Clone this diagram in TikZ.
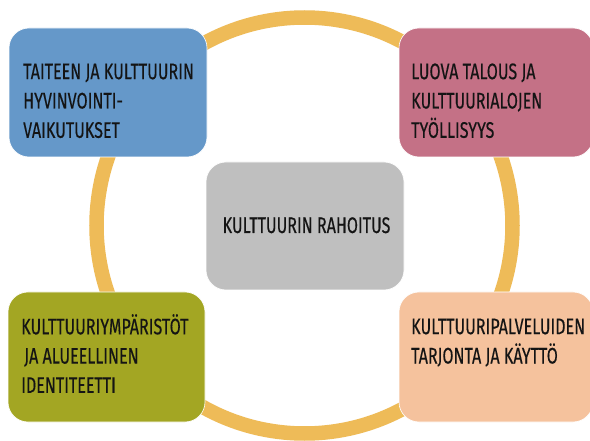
\documentclass[tikz,border=0pt]{standalone}
\usepackage{fontspec}
\setmainfont[FakeStretch=0.715,FakeBold=0.3]{Fira Sans}
\definecolor{ringc}{RGB}{238,187,88}
\definecolor{blueb}{RGB}{101,152,201}
\definecolor{mauveb}{RGB}{196,113,134}
\definecolor{oliveb}{RGB}{163,166,35}
\definecolor{peachb}{RGB}{245,194,157}
\definecolor{grayb}{RGB}{191,191,191}
\begin{document}
\begin{tikzpicture}[x=1pt,y=-1pt,
  box/.style={rounded corners=20pt, inner sep=0pt, draw=white, line width=0.6pt},
  lbl/.style={anchor=north west, inner sep=0pt, align=left, text=black!92,
    font=\fontsize{22.5}{29.3}\selectfont}]
\useasboundingbox (0,0) rectangle (590,441);
\clip (0,0) rectangle (590,441);
\fill[white] (0,0) rectangle (590,441);
\draw[ringc, line width=14.5pt] (304.5,225.5) circle [radius=208];
\node[box, fill=blueb, minimum width=198pt, minimum height=129pt] (tl) at (108,92.5) {};
\node[box, fill=mauveb, minimum width=194pt, minimum height=129pt] (tr) at (496,92.5) {};
\node[box, fill=oliveb, minimum width=197pt, minimum height=130pt] (bl) at (106.5,357) {};
\node[box, fill=peachb, minimum width=194pt, minimum height=130pt] (br) at (496,357) {};
\node[box, fill=grayb, minimum width=198pt, minimum height=128pt] (ctr) at (305,226) {};
\node[lbl] (tltext) at (23,59) {\rule{0pt}{20pt}TAITEEN JA KULTTUURIN\\HYVINVOINTI-\\VAIKUTUKSET};
\node[lbl] (trtext) at (411,59) {\rule{0pt}{20pt}LUOVA TALOUS JA\\KULTTUURIALOJEN\\TYÖLLISYYS};
\node[lbl] (bltext) at (21,314) {\rule{0pt}{20pt}KULTTUURIYMPÄRISTÖT\\\hspace*{3pt}JA ALUEELLINEN\\IDENTITEETTI};
\node[lbl] (brtext) at (411,314) {\rule{0pt}{20pt}KULTTUURIPALVELUIDEN\\TARJONTA JA KÄYTTÖ};
\node[lbl, anchor=base] (ctext) at (306.5,233) {KULTTUURIN RAHOITUS};
\end{tikzpicture}
\end{document}
